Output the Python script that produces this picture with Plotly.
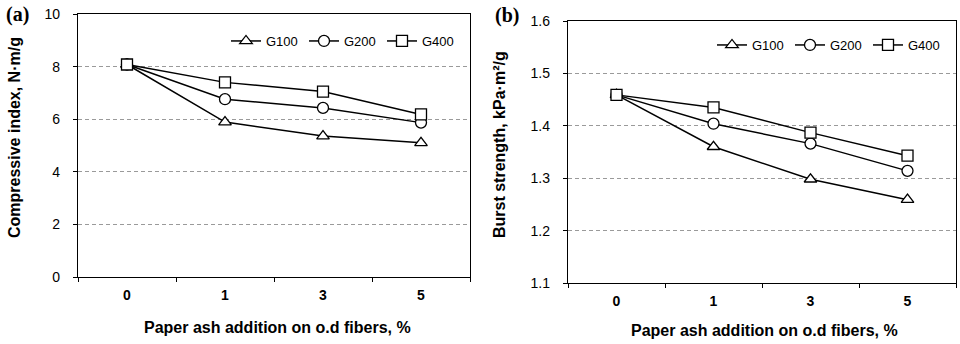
import plotly.graph_objects as go

categories = ["0", "1", "3", "5"]
series_names = ["G100", "G200", "G400"]
compressive_g100 = [8.08, 5.89, 5.36, 5.10]
compressive_g200 = [8.08, 6.76, 6.43, 5.87]
compressive_g400 = [8.08, 7.40, 7.05, 6.18]
burst_g100 = [1.459, 1.360, 1.298, 1.259]
burst_g200 = [1.459, 1.404, 1.366, 1.314]
burst_g400 = [1.459, 1.435, 1.387, 1.343]
left_ticks = [0, 2, 4, 6, 8, 10]
right_ticks = [1.1, 1.2, 1.3, 1.4, 1.5, 1.6]

W, H = 960, 344
def px(x):
    return x / W
def py(y):
    return 1 - y / H

symbols = ["triangle-up", "circle", "square"]
FONT = "Liberation Sans, Arial, sans-serif"

fig = go.Figure()
left_data = [compressive_g100, compressive_g200, compressive_g400]
right_data = [burst_g100, burst_g200, burst_g400]
for name, vals, sym in zip(series_names, left_data, symbols):
    fig.add_trace(go.Scatter(
        x=categories, y=vals, name=name, mode="lines+markers",
        line=dict(color="black", width=1.5),
        marker=dict(symbol=sym, size=11, color="white",
                    line=dict(color="black", width=1.3)),
        xaxis="x", yaxis="y", legend="legend"))
for name, vals, sym in zip(series_names, right_data, symbols):
    fig.add_trace(go.Scatter(
        x=categories, y=vals, name=name, mode="lines+markers",
        line=dict(color="black", width=1.5),
        marker=dict(symbol=sym, size=11, color="white",
                    line=dict(color="black", width=1.3)),
        xaxis="x2", yaxis="y2", legend="legend2"))

axis_common = dict(showline=True, linecolor="black", linewidth=1.3, mirror=True,
                   ticks="outside", ticklen=4, tickcolor="black", tickwidth=1.2,
                   automargin=False)
xcommon = dict(axis_common, type="category", range=[-0.5, 3.5], tickson="boundaries",
               showgrid=False, tickfont=dict(family=FONT, size=14, color="black", weight="bold"),
               ticklabelstandoff=5)
ycommon = dict(axis_common, showgrid=True, gridcolor="#9a9a9a", griddash="4px,3px", gridwidth=1,
               zeroline=False, tickfont=dict(family=FONT, size=14, color="black"),
               ticklabelstandoff=10)

legend_common = dict(orientation="h", xanchor="right", yanchor="middle",
                     bgcolor="rgba(0,0,0,0)", font=dict(family=FONT, size=13, color="black"),
                     itemwidth=30, tracegroupgap=0, entrywidth=33, entrywidthmode="pixels")

fig.update_layout(
    width=W, height=H, margin=dict(l=0, r=0, t=0, b=0, autoexpand=False),
    paper_bgcolor="white", plot_bgcolor="white", showlegend=True,
    xaxis=dict(xcommon, domain=[px(78), px(470)], anchor="y"),
    yaxis=dict(ycommon, domain=[py(277), py(14)], anchor="x", range=[0, 10],
               tickvals=left_ticks, ticktext=[str(v) for v in left_ticks]),
    xaxis2=dict(xcommon, domain=[px(568), px(956)], anchor="y2"),
    yaxis2=dict(ycommon, domain=[py(283), py(21)], anchor="x2", range=[1.1, 1.6],
                tickvals=right_ticks, ticktext=["%.1f" % v for v in right_ticks]),
    legend=dict(legend_common, x=px(460), y=py(41)),
    legend2=dict(legend_common, x=px(946), y=py(45)),
)

annotations = [
    dict(text="Compressive index, N·m/g", x=px(14), y=py(138), textangle=-90),
    dict(text="Burst strength, kPa·m²/g", x=px(499), y=py(145), textangle=-90),
    dict(text="Paper ash addition on o.d fibers, %", x=px(277), y=py(327)),
    dict(text="Paper ash addition on o.d fibers, %", x=px(764), y=py(330)),
]
for a in annotations:
    fig.add_annotation(xref="paper", yref="paper", showarrow=False,
                       xanchor="center", yanchor="middle",
                       font=dict(family=FONT, size=16, color="black", weight="bold"), **a)
for label, x, y in [("(a)", 17, 15), ("(b)", 507, 16)]:
    fig.add_annotation(text=label, xref="paper", yref="paper", x=px(x), y=py(y),
                       showarrow=False, xanchor="center", yanchor="middle",
                       font=dict(family="Liberation Serif, Times New Roman, serif", size=20,
                                 color="black", weight="bold"))

fig.write_html("out.html")
